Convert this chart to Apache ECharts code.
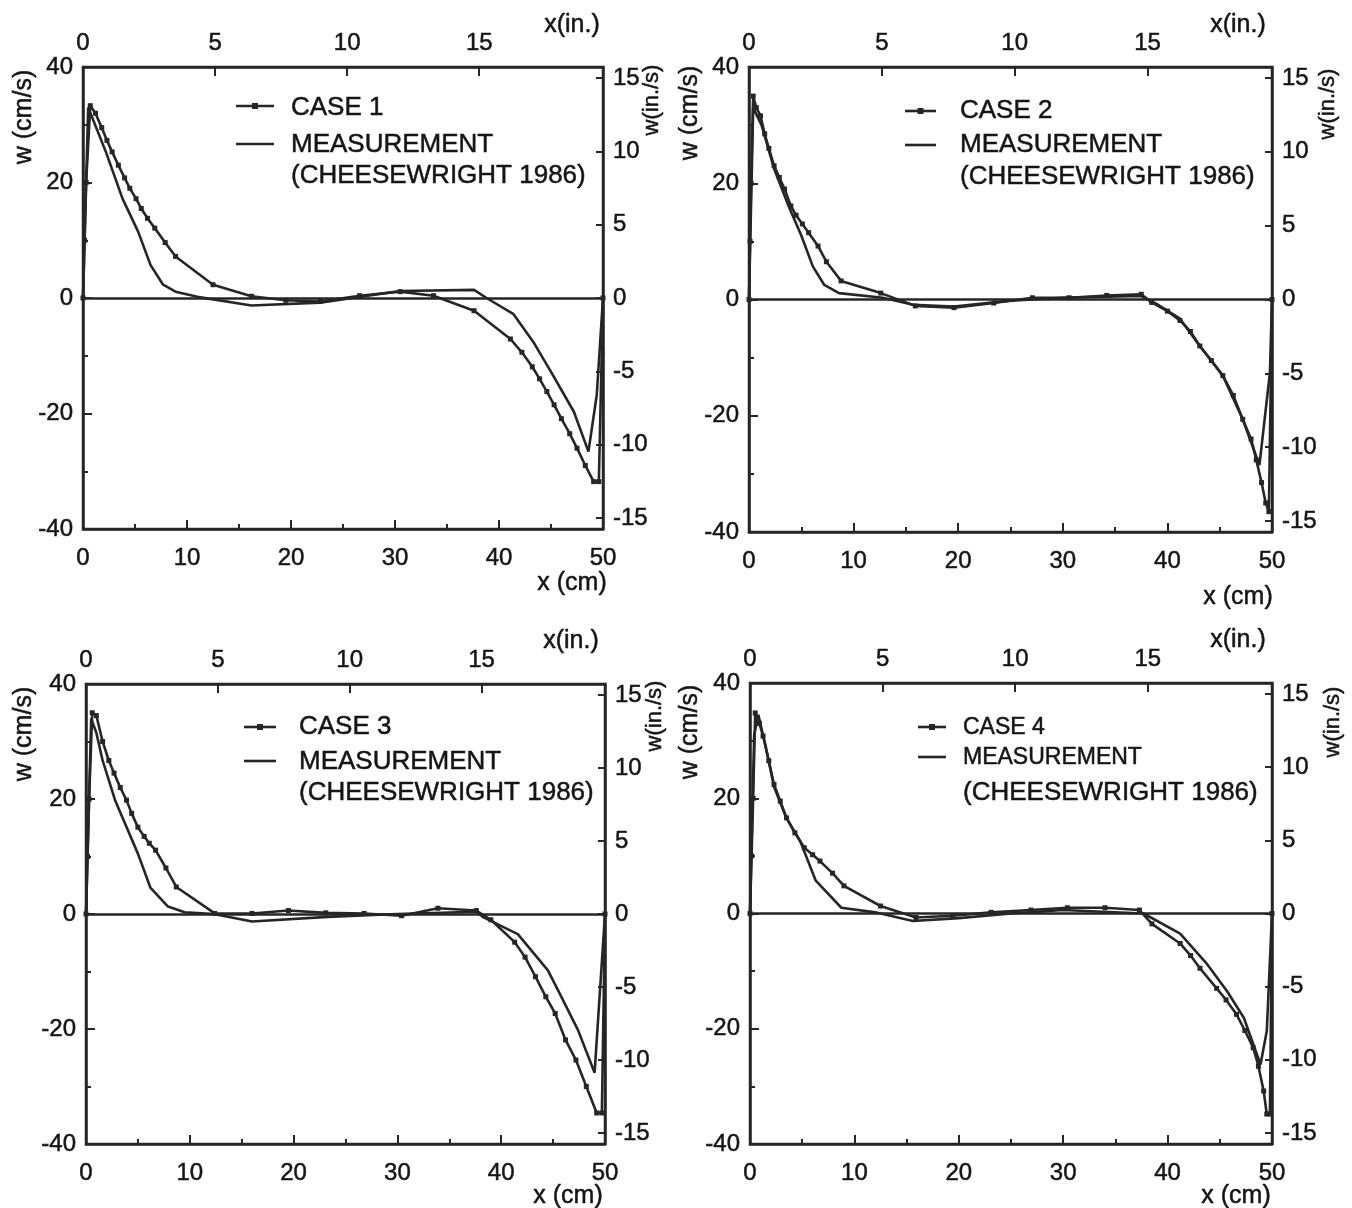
<!DOCTYPE html>
<html>
<head>
<meta charset="utf-8">
<title>Vertical velocity profiles w(x)</title>
<script src="https://cdn.jsdelivr.net/npm/echarts@6/dist/echarts.min.js"></script>
<style>
  html, body { margin: 0; padding: 0; background: #fff; }
  #wrap { position: relative; width: 1352px; height: 1208px; }
  #frame, #plot { position: absolute; left: 0; top: 0; width: 1352px; height: 1208px; }
  #plot { z-index: 2; }
</style>
</head>
<body>
<div id="wrap">
  <div id="frame"></div>
  <div id="plot"></div>
</div>
<script>
// Velocity profiles across the cavity: [x (cm), w (cm/s)]
const case1 = [[0,0],[0.15,10],[0.3,20],[0.7,33.3],[1.2,32],[1.8,29.5],[2.3,27.3],[2.8,25.3],[3.4,23],[4.0,20.8],[4.5,19],[5.1,17.2],[5.6,15.5],[6.2,13.8],[6.9,12.1],[7.9,9.6],[8.9,7.2],[12.5,2.3],[16.2,0.3],[19.5,-0.4],[22.8,-0.6],[26.6,0.4],[30.5,1.1],[33.7,0.4],[37.6,-2.2],[41.1,-7.1],[42.2,-9.4],[43.2,-11.9],[43.9,-14],[44.6,-16.2],[45.3,-18.5],[46.0,-20.9],[46.8,-23.5],[47.5,-26],[48.3,-29],[49.1,-31.8],[49.6,-31.8],[50,0]];
const meas1 = [[0,0],[0.5,33],[2.2,25.3],[3.8,17.2],[5.3,11.5],[6.5,5.7],[7.7,2.3],[8.9,1.1],[11,0.2],[16.2,-1.3],[22.8,-0.8],[30.5,1.2],[37.6,1.4],[38.8,0],[41.4,-2.8],[43.3,-7.6],[45.1,-13.1],[47.2,-19.7],[48.6,-26.6],[49.4,-16.8],[50,0]];

const case2 = [[0,0],[0.1,10],[0.2,20],[0.4,35],[0.7,33],[1.1,31.6],[1.5,28.5],[1.9,26],[2.4,23],[2.9,21],[3.4,19],[4.0,16.1],[4.5,14.5],[5.1,13],[5.7,11.5],[6.6,9.2],[7.4,6.5],[8.8,3.2],[12.6,1.1],[15.9,-1.1],[19.6,-1.4],[23.4,-0.6],[27.1,0.3],[30.6,0.3],[34.2,0.7],[37.5,0.9],[38.5,-0.5],[40,-2],[41.2,-3.6],[42.2,-5.5],[43.1,-8],[44.2,-10.5],[45.3,-13.1],[46.3,-16.5],[47.2,-20.6],[48,-24],[48.5,-27.6],[49,-31.5],[49.4,-35],[49.7,-36.5],[50,0]];
const meas2 = [[0,0],[0.4,33],[1.2,30],[2.4,22.5],[3.8,16],[5.0,11],[6.1,5.7],[7.2,2.5],[8.6,1.1],[12.8,0.3],[15.7,-0.9],[19.6,-1.2],[25,-0.2],[30,0.3],[37.5,0.6],[39,-0.8],[41.2,-3.3],[43.1,-8],[45.3,-13.1],[47.2,-20.6],[48.8,-28.5],[49.8,-12.6],[50,0]];

const case3 = [[0,0],[0.15,10],[0.3,20],[0.6,35],[1.0,34.5],[1.6,30],[2.2,26.7],[2.7,24.5],[3.3,22],[3.9,19.8],[4.4,17.5],[5.0,15.1],[5.6,13.5],[6.1,12.3],[6.7,11.1],[7.7,8],[8.7,4.7],[12.4,0.1],[16.0,0.1],[19.5,0.6],[23.1,0.2],[26.8,0.1],[30.4,-0.3],[33.9,1],[37.6,0.6],[39,-1],[41.3,-4.9],[42.3,-7.5],[43.3,-10.9],[44.3,-14.4],[45.2,-17.3],[46.2,-21.9],[47.2,-25.4],[48.2,-30],[49.2,-34.6],[49.7,-34.6],[50,0]];
const meas3 = [[0,0],[0.5,34],[1.0,31.5],[1.6,26.7],[2.8,19.8],[5.0,10.5],[6.2,4.6],[7.9,1.3],[9.5,0.3],[12.3,0],[16,-1.3],[23.3,-0.5],[30,0],[37.6,0.4],[38.3,-0.6],[41.6,-3.5],[44.5,-9.8],[45.8,-14.4],[47.4,-20.2],[49.0,-27.6],[50,0]];

const case4 = [[0,0],[0.15,10],[0.3,20],[0.5,34.8],[0.9,33],[1.25,30.8],[1.8,26.5],[2.3,22.4],[2.9,19.5],[3.5,16.6],[4.3,14],[5.2,11.4],[6.0,10.2],[6.7,9.1],[7.9,7],[9.0,4.8],[12.5,1.3],[15.9,-0.7],[19.4,-0.4],[23.1,0.2],[26.9,0.6],[30.4,1.0],[34.0,1.0],[37.3,0.6],[38.5,-1.8],[41.2,-5.2],[42.2,-7.3],[43.1,-9.5],[44.7,-13],[45.6,-15],[46.6,-17.5],[47.4,-20.3],[48.2,-23.3],[48.7,-26.5],[49.2,-30.8],[49.5,-34.8],[49.8,-34.8],[50,0]];
const meas4 = [[0,0],[0.4,31],[0.8,34.5],[1.5,29],[2.3,22],[3.5,16.5],[4.8,12.6],[6.3,5.7],[8.75,1.0],[12,0.2],[15.6,-1.3],[20,-0.8],[25,0],[30,0.6],[37.7,0],[41.2,-3.5],[43.7,-8.6],[45.7,-13.5],[47.3,-18.1],[48.9,-26.2],[49.5,-20.4],[50,0]];

const caseNames = ['CASE 1', 'CASE 2', 'CASE 3', 'CASE 4'];
const measName = 'MEASUREMENT';
const measRef = '(CHEESEWRIGHT 1986)';

// Tick values
const inchTicks = [0, 5, 10, 15];
const inSpeedTicks = [-15, -10, -5, 0, 5, 10, 15];
const CM_PER_IN = 2.54;

const caseData = [case1, case2, case3, case4];
const measData = [meas1, meas2, meas3, meas4];

// Layout of the four panels
const panels = [
  { grid: { left: 83, top: 67, width: 520, height: 462 },
    wcm: [24, 117], xin: [572, 25], xcm: [572, 583], win: [652, 100],
    leg: { lx: 236, lx2: 274, y1: 106, y2: 144, tx: 291, t1: 108, t2: 145, t3: 176, f12: 26 } },
  { grid: { left: 749, top: 67, width: 523, height: 465 },
    wcm: [690, 113], xin: [1238, 25], xcm: [1238, 597], win: [1328, 104],
    leg: { lx: 905, lx2: 936, y1: 111, y2: 145, tx: 960, t1: 111, t2: 145, t3: 177, f12: 26 } },
  { grid: { left: 86, top: 684, width: 519, height: 460 },
    wcm: [24, 734], xin: [571, 641], xcm: [568, 1196], win: [655, 716],
    leg: { lx: 244, lx2: 276, y1: 727, y2: 761, tx: 299, t1: 727, t2: 762, t3: 793, f12: 26 } },
  { grid: { left: 750, top: 683, width: 522, height: 461 },
    wcm: [690, 732], xin: [1238, 640], xcm: [1236, 1196], win: [1333, 722],
    leg: { lx: 918, lx2: 946, y1: 727, y2: 757, tx: 963, t1: 728, t2: 758, t3: 793, f12: 23 } }
];

const INK = '#262626';
const TEXT = '#151515';
const FONT = "'Liberation Sans', Arial, Helvetica, sans-serif";
const tickFont = () => ({ fontFamily: FONT, fontSize: 24, color: TEXT, textBorderColor: TEXT, textBorderWidth: 0.5 });
const axisLine = () => ({ show: true, onZero: false, lineStyle: { color: INK, width: 2.5 } });
const tickStyle = () => ({ color: INK, width: 2 });

// ---- Frame layer: boxes, ticks and tick labels of all four panels ----
const fGrids = [], fX = [], fY = [];
panels.forEach((p, i) => {
  fGrids.push(Object.assign({ containLabel: false, show: true, borderColor: INK, borderWidth: 2.5,
                              backgroundColor: 'transparent' }, p.grid));
  fX.push({ gridIndex: i, type: 'value', position: 'bottom', min: 0, max: 50, interval: 10,
    axisLine: axisLine(),
    axisTick: { show: true, inside: true, length: 9, lineStyle: tickStyle() },
    axisLabel: Object.assign({ margin: 17 }, tickFont()), splitLine: { show: false } });
  fX.push({ gridIndex: i, type: 'value', position: 'top', min: 0, max: 50 / CM_PER_IN,
    axisLine: axisLine(),
    axisTick: { show: true, inside: true, length: 9, customValues: inchTicks, lineStyle: tickStyle() },
    axisLabel: Object.assign({ margin: 12, customValues: inchTicks }, tickFont()), splitLine: { show: false } });
  fY.push({ gridIndex: i, type: 'value', position: 'left', min: -40, max: 40, interval: 20,
    axisLine: axisLine(),
    axisTick: { show: true, inside: true, length: 9, lineStyle: tickStyle() },
    axisLabel: Object.assign({ margin: 10 }, tickFont()), splitLine: { show: false } });
  fY.push({ gridIndex: i, type: 'value', position: 'right', min: -40 / CM_PER_IN, max: 40 / CM_PER_IN,
    axisLine: axisLine(),
    axisTick: { show: true, inside: true, length: 7, customValues: inSpeedTicks, lineStyle: tickStyle() },
    axisLabel: Object.assign({ margin: 10, customValues: inSpeedTicks }, tickFont()), splitLine: { show: false } });
});
// short intermediate ticks every 5 cm and every 10 cm/s
panels.forEach((p, i) => {
  const g = fGrids.length;
  fGrids.push(Object.assign({ containLabel: false }, p.grid));
  fX.push({ gridIndex: g, type: 'value', position: 'bottom', min: 0, max: 50, interval: 5,
    axisLine: { show: false, onZero: false }, axisLabel: { show: false }, splitLine: { show: false },
    axisTick: { show: true, inside: true, length: 5, lineStyle: tickStyle() } });
  fY.push({ gridIndex: g, type: 'value', position: 'left', min: -40, max: 40, interval: 10,
    axisLine: { show: false, onZero: false }, axisLabel: { show: false }, splitLine: { show: false },
    axisTick: { show: true, inside: true, length: 5, lineStyle: tickStyle() } });
});

const frameChart = echarts.init(document.getElementById('frame'), null, { renderer: 'canvas' });
frameChart.setOption({
  animation: false,
  backgroundColor: '#ffffff',
  textStyle: { fontFamily: FONT },
  grid: fGrids, xAxis: fX, yAxis: fY, series: []
});

// ---- Plot layer: profiles, zero lines, titles and legends ----
const pGrids = [], pX = [], pY = [], series = [], graphics = [];
panels.forEach((p, i) => {
  pGrids.push(Object.assign({ containLabel: false }, p.grid));
  pX.push({ gridIndex: i, type: 'value', min: 0, max: 50, show: false });
  pY.push({ gridIndex: i, type: 'value', min: -40, max: 40, show: false });

  series.push({
    name: caseNames[i], type: 'line', xAxisIndex: i, yAxisIndex: i,
    data: caseData[i],
    symbol: 'rect', symbolSize: 5, showSymbol: true,
    itemStyle: { color: INK },
    lineStyle: { color: INK, width: 2.6 },
    markLine: {
      silent: true, symbol: 'none', animation: false,
      label: { show: false },
      lineStyle: { color: INK, width: 2.5, type: 'solid' },
      data: [{ yAxis: 0 }]
    },
    z: 3
  });
  series.push({
    name: measName, type: 'line', xAxisIndex: i, yAxisIndex: i,
    data: measData[i],
    symbol: 'none',
    lineStyle: { color: INK, width: 2.6 },
    z: 2
  });

  const txt = (pos, text, rot, size) => ({
    type: 'text', x: pos[0], y: pos[1], rotation: rot || 0, silent: true,
    style: { text: text, font: size + 'px ' + FONT, fill: TEXT, stroke: TEXT, lineWidth: 0.5,
             align: 'center', verticalAlign: 'middle' }
  });
  graphics.push(txt(p.wcm, 'w (cm/s)', Math.PI / 2, 25));
  graphics.push(txt(p.win, 'w(in./s)', Math.PI / 2, 22));
  graphics.push(txt(p.xin, 'x(in.)', 0, 25));
  graphics.push(txt(p.xcm, 'x (cm)', 0, 25));

  const L = p.leg;
  const left = (y, text, size) => ({
    type: 'text', x: L.tx, y: y, silent: true,
    style: { text: text, font: size + 'px ' + FONT, fill: TEXT, stroke: TEXT, lineWidth: 0.5,
             align: 'left', verticalAlign: 'middle' }
  });
  graphics.push({ type: 'line', silent: true, shape: { x1: L.lx, y1: L.y1, x2: L.lx2, y2: L.y1 }, style: { stroke: INK, lineWidth: 2.6 } });
  graphics.push({ type: 'rect', silent: true, shape: { x: (L.lx + L.lx2) / 2 - 3, y: L.y1 - 3, width: 6, height: 6 }, style: { fill: INK } });
  graphics.push({ type: 'line', silent: true, shape: { x1: L.lx, y1: L.y2, x2: L.lx2, y2: L.y2 }, style: { stroke: INK, lineWidth: 2.6 } });
  graphics.push(left(L.t1, caseNames[i], L.f12));
  graphics.push(left(L.t2, measName, L.f12));
  graphics.push(left(L.t3, measRef, 26));
});

const plotChart = echarts.init(document.getElementById('plot'), null, { renderer: 'canvas' });
plotChart.setOption({
  animation: false,
  backgroundColor: 'transparent',
  textStyle: { fontFamily: FONT },
  grid: pGrids, xAxis: pX, yAxis: pY,
  series: series,
  graphic: graphics
});
</script>
</body>
</html>
